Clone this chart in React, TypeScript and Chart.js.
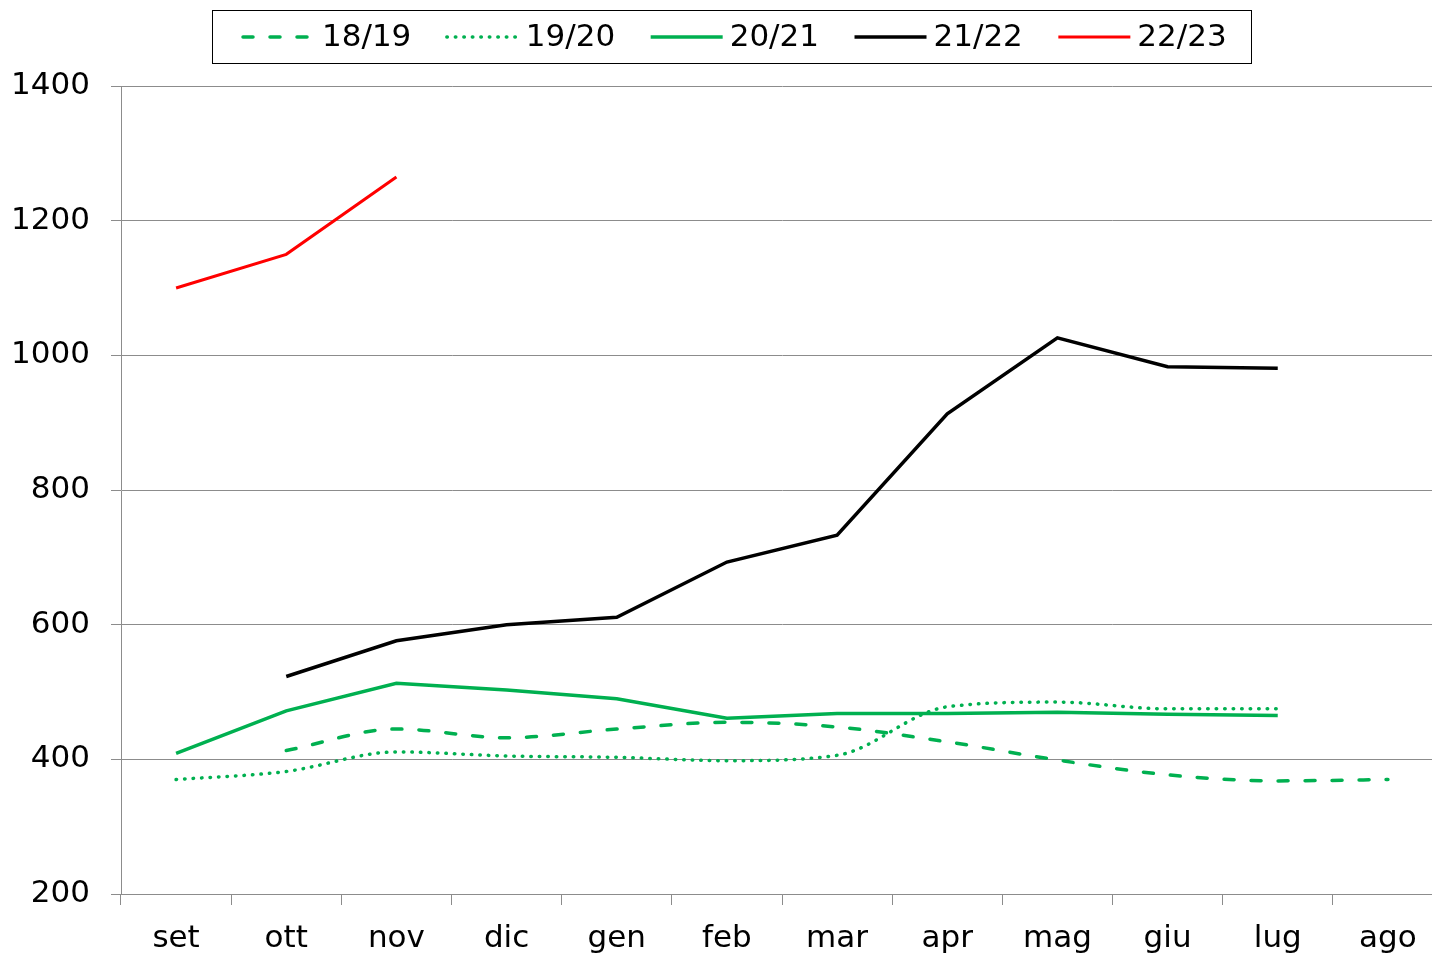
import React, { useEffect, useRef } from "react";
import { Chart, registerables } from "chart.js";

Chart.register(...registerables);

const months = ["set", "ott", "nov", "dic", "gen", "feb", "mar", "apr", "mag", "giu", "lug", "ago"];
const s1819 = [null, 413, 445, 432, 445, 455, 448, 426, 399, 377, 368, 370];
const s1920 = [370, 382, 411, 405, 403, 398, 406, 478, 485, 475, 475, null];
const s2021 = [409, 472, 513, 503, 490, 461, 468, 468, 470, 467, 465, null];
const s2122 = [null, 523, 576, 600, 611, 693, 733, 913, 1026, 983, 981, null];
const s2223 = [1100, 1150, 1265, null, null, null, null, null, null, null, null, null];
const yTicks = { min: 200, max: 1400, step: 200 };

const GREEN = "#00B050";
const GRID = "#8c8c8c";
const FONT = "'DejaVu Sans', Verdana, sans-serif";
const CANVAS_W = 1443;
const CANVAS_H = 955;

const customLegend = {
  id: "customLegend",
  afterDraw(chart: any) {
    const ctx = chart.ctx;
    ctx.save();
    ctx.strokeStyle = "#000";
    ctx.lineWidth = 1;
    ctx.setLineDash([]);
    ctx.strokeRect(212.5, 10.5, 1039, 53);
    ctx.font = `31px ${FONT}`;
    ctx.textBaseline = "middle";
    ctx.textAlign = "left";
    let x = 243;
    const cy = 37;
    chart.data.datasets.forEach((ds: any) => {
      ctx.save();
      ctx.strokeStyle = ds.borderColor;
      ctx.lineWidth = ds.borderWidth;
      ctx.lineCap = ds.borderCapStyle || "butt";
      ctx.setLineDash(ds.borderDash || []);
      ctx.beginPath();
      ctx.moveTo(x, cy);
      ctx.lineTo(x + 72, cy);
      ctx.stroke();
      ctx.restore();
      ctx.fillStyle = "#000";
      ctx.fillText(ds.label, x + 79, cy + 1);
      const w = ctx.measureText(ds.label).width;
      x += 79 + w + 35.5;
    });
    ctx.restore();
  },
};

export default function App() {
  const ref = useRef<HTMLCanvasElement | null>(null);
  useEffect(() => {
    if (!ref.current) return;
    const chart = new Chart(ref.current, {
      type: "line",
      data: {
        labels: months,
        datasets: [
          {
            label: "18/19",
            data: s1819,
            borderColor: GREEN,
            borderWidth: 3.5,
            borderDash: [10, 17],
            borderCapStyle: "round",
            cubicInterpolationMode: "monotone",
            pointRadius: 0,
          },
          {
            label: "19/20",
            data: s1920,
            borderColor: GREEN,
            borderWidth: 3.5,
            borderDash: [0.5, 8],
            borderCapStyle: "round",
            cubicInterpolationMode: "monotone",
            pointRadius: 0,
          },
          {
            label: "20/21",
            data: s2021,
            borderColor: GREEN,
            borderWidth: 3.5,
            tension: 0,
            pointRadius: 0,
          },
          {
            label: "21/22",
            data: s2122,
            borderColor: "#000000",
            borderWidth: 3.5,
            tension: 0,
            pointRadius: 0,
          },
          {
            label: "22/23",
            data: s2223,
            borderColor: "#FF0000",
            borderWidth: 3,
            tension: 0,
            pointRadius: 0,
          },
        ],
      },
      options: {
        responsive: false,
        animation: false,
        devicePixelRatio: 1,
        layout: { padding: { top: 86, left: 0, right: 0, bottom: 0 } },
        plugins: {
          legend: { display: false },
          tooltip: { enabled: false },
        },
        scales: {
          x: {
            offset: true,
            grid: {
              display: true,
              drawOnChartArea: false,
              drawTicks: true,
              tickLength: 11,
              offset: true,
              color: GRID,
            },
            border: { display: true, color: GRID, width: 1 },
            ticks: {
              color: "#000",
              font: { family: FONT, size: 31 },
              padding: 15,
              maxRotation: 0,
              autoSkip: false,
            },
            afterFit: (s: any) => {
              s.height = 61;
            },
          },
          y: {
            min: yTicks.min,
            max: yTicks.max,
            ticks: {
              stepSize: yTicks.step,
              color: "#000",
              font: { family: FONT, size: 31 },
              padding: 21,
              callback: (v: any) => String(v),
            },
            grid: { color: GRID, tickLength: 10, drawTicks: true },
            border: { display: true, color: GRID, width: 1 },
            afterFit: (s: any) => {
              s.width = 121;
            },
          },
        },
      },
      plugins: [customLegend],
    });
    return () => chart.destroy();
  }, []);
  return (
    <div
      style={{
        position: "absolute",
        left: 0,
        top: 0,
        width: 1432,
        height: CANVAS_H,
        overflow: "hidden",
        background: "#fff",
      }}
    >
      <canvas ref={ref} width={CANVAS_W} height={CANVAS_H} style={{ display: "block" }} />
    </div>
  );
}
